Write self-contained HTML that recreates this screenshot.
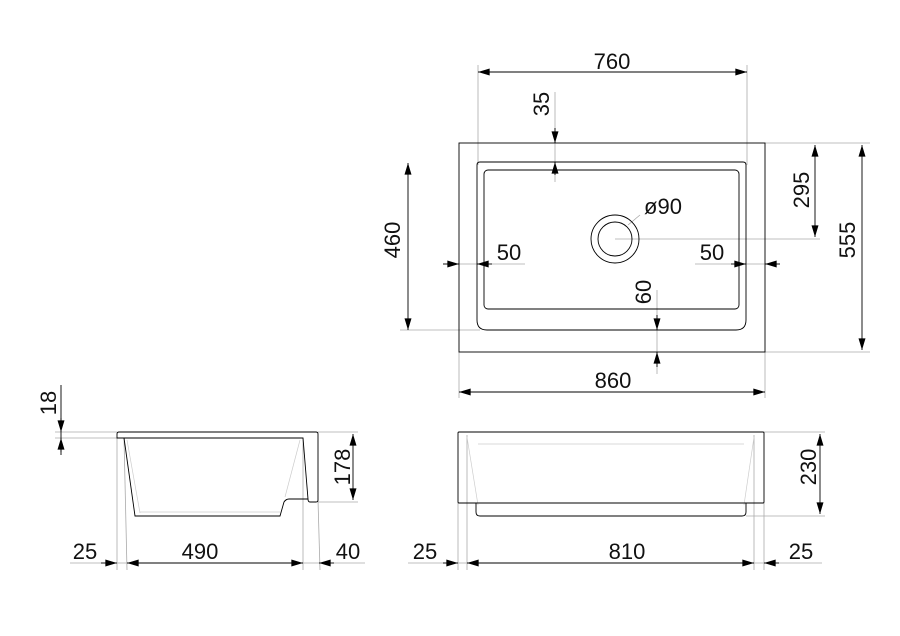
<!DOCTYPE html>
<html><head><meta charset="utf-8"><style>
html,body{margin:0;padding:0;background:#fff;width:900px;height:636px;overflow:hidden}
text{font-family:"Liberation Sans",sans-serif;font-size:22px;fill:#111}
</style></head><body>
<svg width="900" height="636" viewBox="0 0 900 636" xmlns="http://www.w3.org/2000/svg">
<defs>
<marker id="a" viewBox="0 0 10 6" refX="10" refY="3" markerWidth="15" markerHeight="7" markerUnits="userSpaceOnUse" orient="auto-start-reverse"><path d="M0,0L10,3L0,6Z" fill="#000"/></marker>
</defs>
<g stroke="#aaa" stroke-width="0.8" fill="none">
<line x1="478" y1="65" x2="478" y2="165"/><line x1="747" y1="65" x2="747" y2="165"/>
<line x1="555" y1="92" x2="555" y2="182"/>
<line x1="400" y1="330" x2="480" y2="330"/>
<line x1="443" y1="264" x2="525" y2="264"/><line x1="695" y1="264" x2="780" y2="264"/>
<line x1="615" y1="239" x2="820" y2="239"/>
<line x1="765" y1="143" x2="870" y2="143"/><line x1="765" y1="352" x2="870" y2="352"/>
<line x1="657" y1="290" x2="657" y2="374"/>
<line x1="459" y1="352" x2="459" y2="398"/><line x1="765" y1="352" x2="765" y2="398"/>
<line x1="628" y1="225" x2="640" y2="215"/>
<line x1="55" y1="432" x2="117" y2="432"/><line x1="55" y1="438" x2="124" y2="438"/>
<line x1="318" y1="432" x2="358" y2="432"/><line x1="318" y1="502" x2="358" y2="502"/>
<line x1="117" y1="438" x2="117" y2="570"/><line x1="124" y1="438" x2="127" y2="570"/>
<line x1="303" y1="438" x2="303" y2="570"/><line x1="318" y1="500" x2="320" y2="570"/>
<line x1="70" y1="563" x2="365" y2="563"/>
<line x1="764" y1="432" x2="825" y2="432"/><line x1="746" y1="516" x2="825" y2="516"/>
<line x1="458" y1="503" x2="458" y2="570"/><line x1="467" y1="435" x2="467" y2="570"/>
<line x1="754" y1="435" x2="754" y2="570"/><line x1="764" y1="503" x2="764" y2="570"/>
<line x1="408" y1="563" x2="822" y2="563"/>
</g>
<g stroke="#ccc" stroke-width="0.7" fill="none">
<path d="M127,440 L140,513 M300,440 L285,497 M140,512 L280,512"/>
<path d="M467,437 L478,505 M754,437 L744,505 M478,444 L744,444"/>
</g>
<g stroke="#000" stroke-width="0.9" fill="none">
<line x1="478" y1="72" x2="747" y2="72" marker-start="url(#a)" marker-end="url(#a)"/>
<line x1="555" y1="128" x2="555" y2="143" marker-end="url(#a)"/>
<line x1="555" y1="175" x2="555" y2="162" marker-end="url(#a)"/>
<line x1="408" y1="163" x2="408" y2="330" marker-start="url(#a)" marker-end="url(#a)"/>
<line x1="443" y1="264" x2="459" y2="264" marker-end="url(#a)"/>
<line x1="492" y1="264" x2="477" y2="264" marker-end="url(#a)"/>
<line x1="731" y1="264" x2="746" y2="264" marker-end="url(#a)"/>
<line x1="780" y1="264" x2="765" y2="264" marker-end="url(#a)"/>
<line x1="815" y1="145" x2="815" y2="237" marker-start="url(#a)" marker-end="url(#a)"/>
<line x1="862" y1="145" x2="862" y2="350" marker-start="url(#a)" marker-end="url(#a)"/>
<line x1="657" y1="315" x2="657" y2="330" marker-end="url(#a)"/>
<line x1="657" y1="367" x2="657" y2="352" marker-end="url(#a)"/>
<line x1="459" y1="392" x2="765" y2="392" marker-start="url(#a)" marker-end="url(#a)"/>
<rect x="459" y="143" width="306" height="209"/>
<path d="M480,162 H743 Q746,162 746,165 V320 Q746,330 736,330 H487 Q477,330 477,320 V165 Q477,162 480,162Z"/>
<rect x="484" y="170" width="255" height="139" rx="4"/>
<circle cx="615" cy="239" r="24"/><circle cx="615" cy="239" r="17"/>
<line x1="61" y1="418" x2="61" y2="432" marker-end="url(#a)"/>
<line x1="61" y1="452" x2="61" y2="438" marker-end="url(#a)"/>
<line x1="61" y1="385" x2="61" y2="455"/>
<line x1="353" y1="434" x2="353" y2="500" marker-start="url(#a)" marker-end="url(#a)"/>
<line x1="101" y1="563" x2="117" y2="563" marker-end="url(#a)"/>
<line x1="127" y1="563" x2="303" y2="563" marker-start="url(#a)" marker-end="url(#a)"/>
<line x1="334" y1="563" x2="319" y2="563" marker-end="url(#a)"/>
<path d="M119,432 H316 Q318,432 318,434 V500 Q318,502 316,502 H310 Q308,502 308,499 L303,438 H117 V434 Q117,432 119,432Z"/>
<path d="M124,438 L135,516 H280 L284,502 Q286,499 289,499 H308"/>
<line x1="820" y1="434" x2="820" y2="514" marker-start="url(#a)" marker-end="url(#a)"/>
<line x1="443" y1="563" x2="458" y2="563" marker-end="url(#a)"/>
<line x1="467" y1="563" x2="754" y2="563" marker-start="url(#a)" marker-end="url(#a)"/>
<line x1="779" y1="563" x2="764" y2="563" marker-end="url(#a)"/>
<rect x="458" y="432" width="306" height="71" rx="1"/>
<path d="M476,503 V512 Q476,516 480,516 H742 Q746,516 746,512 V503"/>
</g>
<text x="612" y="69" text-anchor="middle">760</text>
<text transform="translate(549,104) rotate(-90)" text-anchor="middle">35</text>
<text transform="translate(400,240) rotate(-90)" text-anchor="middle">460</text>
<text x="509" y="260" text-anchor="middle">50</text>
<text x="712" y="260" text-anchor="middle">50</text>
<text x="663" y="214" text-anchor="middle">ø90</text>
<text transform="translate(809,190) rotate(-90)" text-anchor="middle">295</text>
<text transform="translate(855,240) rotate(-90)" text-anchor="middle">555</text>
<text transform="translate(651,292) rotate(-90)" text-anchor="middle">60</text>
<text x="613" y="388" text-anchor="middle">860</text>
<text transform="translate(56,403) rotate(-90)" text-anchor="middle">18</text>
<text transform="translate(350,467) rotate(-90)" text-anchor="middle">178</text>
<text x="85" y="559" text-anchor="middle">25</text>
<text x="200" y="559" text-anchor="middle">490</text>
<text x="348" y="559" text-anchor="middle">40</text>
<text transform="translate(816,467) rotate(-90)" text-anchor="middle">230</text>
<text x="425" y="559" text-anchor="middle">25</text>
<text x="627" y="559" text-anchor="middle">810</text>
<text x="801" y="559" text-anchor="middle">25</text>
</svg>
</body></html>
